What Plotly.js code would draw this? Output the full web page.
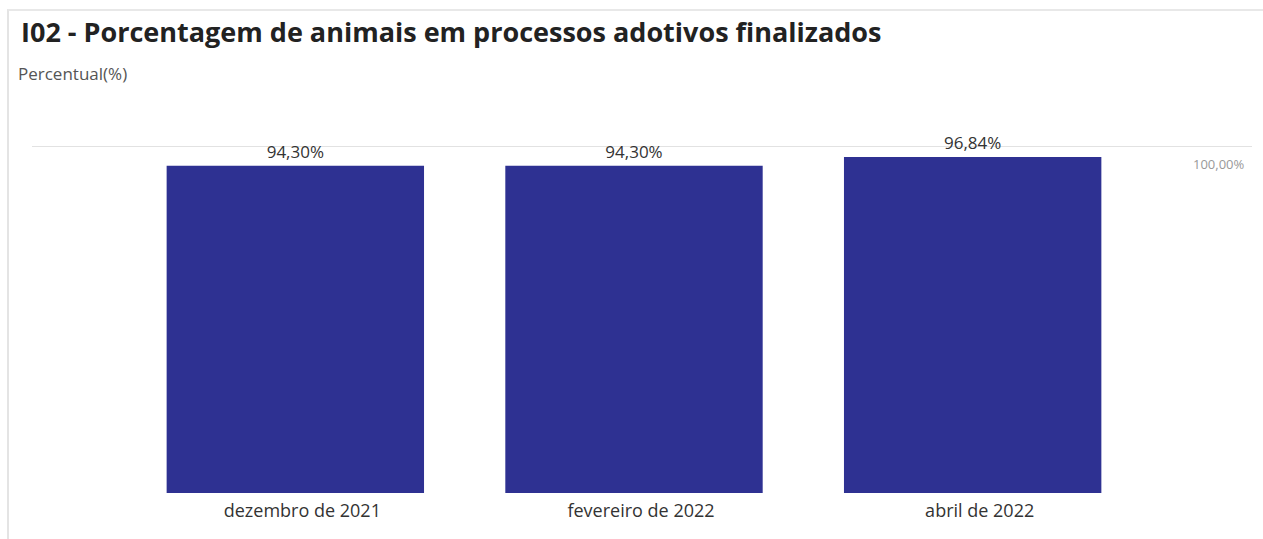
<!DOCTYPE html>
<html>
<head>
<meta charset="utf-8">
<script src="https://cdn.plot.ly/plotly-3.0.1.min.js"></script>
<style>
  html, body { margin: 0; padding: 0; background: #fff; }
  #chart { width: 1263px; height: 539px; position: relative; }
  #frame { position: absolute; left: 7px; top: 9px; width: 1270px; height: 540px;
           border-top: 2px solid #e8e8e8; border-left: 2px solid #e4e4e4; pointer-events: none; }
</style>
</head>
<body>
<div id="chart"></div>
<div id="frame"></div>
<script>
const categories = ["dezembro de 2021", "fevereiro de 2022", "abril de 2022"];
const values = [94.30, 94.30, 96.84];
const targetValue = 100;
const targetLabel = "100,00%";

const W = 1263, H = 539;
const ml = 126, mr = 121, mt = 146, mb = 46;
const pw = W - ml - mr;

const trace = {
  type: 'bar',
  x: categories,
  y: values,
  marker: { color: '#2e3192' },
  texttemplate: '%{y:.2f}%',
  textposition: 'outside',
  cliponaxis: false,
  textfont: { family: 'Open Sans, Noto Sans, sans-serif', size: 17, color: '#333333' },
  hoverinfo: 'none'
};

const layout = {
  width: W, height: H,
  separators: ',.',
  margin: { l: ml, r: mr, t: mt, b: mb, pad: 0 },
  paper_bgcolor: '#ffffff',
  plot_bgcolor: '#ffffff',
  bargap: 0.24,
  showlegend: false,
  title: {
    text: '<b>I02 - Porcentagem de animais em processos adotivos finalizados</b>',
    font: { family: 'Open Sans, Noto Sans, sans-serif', size: 27, color: '#222222' },
    x: 21 / W, xanchor: 'left', xref: 'container',
    y: 1 - 33 / H, yanchor: 'middle', yref: 'container'
  },
  xaxis: {
    type: 'category',
    showgrid: false, zeroline: false, showline: false, ticks: '',
    tickfont: { family: 'Open Sans, Noto Sans, sans-serif', size: 18, color: '#333333' },
    ticklabelstandoff: 5,
    ticklabelshift: 7
  },
  yaxis: {
    range: [0, targetValue],
    showgrid: false, zeroline: false, showline: false, showticklabels: false, ticks: ''
  },
  shapes: [{
    type: 'line', xref: 'paper', yref: 'y',
    x0: (32 - ml) / pw, x1: (1252 - ml) / pw,
    y0: targetValue, y1: targetValue,
    line: { color: '#e2e2e2', width: 2 },
    layer: 'below'
  }],
  annotations: [
    {
      text: 'Percentual(%)', xref: 'paper', yref: 'paper',
      x: (16 - ml) / pw, y: (H - mb - 73) / (H - mt - mb),
      xanchor: 'left', yanchor: 'middle', showarrow: false,
      font: { family: 'Open Sans, Noto Sans, sans-serif', size: 17, color: '#555555' }
    },
    {
      text: targetLabel, xref: 'paper', yref: 'y',
      x: (1219 - ml) / pw, y: targetValue, yshift: -18,
      xanchor: 'center', yanchor: 'middle', showarrow: false,
      font: { family: 'Open Sans, Noto Sans, sans-serif', size: 13, color: '#999999' }
    }
  ]
};

Plotly.newPlot('chart', [trace], layout, { displayModeBar: false, staticPlot: true });
</script>
</body>
</html>
